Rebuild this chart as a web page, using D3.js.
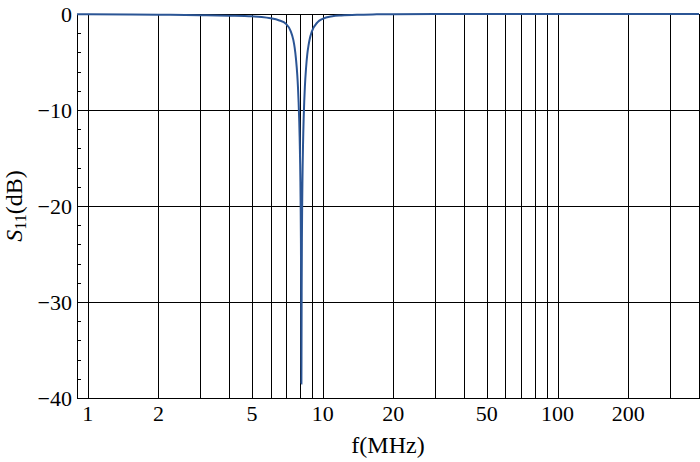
<!DOCTYPE html>
<html>
<head>
<meta charset="utf-8">
<script src="https://cdn.jsdelivr.net/npm/d3@7"></script>
<style>
  html, body { margin: 0; padding: 0; background: #fff; }
  svg { display: block; }
</style>
</head>
<body>
<svg id="chart" width="700" height="462"></svg>
<script>
// ---- data ----
const freqMHz = [0.9, 1, 1.5, 2, 3, 4, 5, 5.5, 6, 6.5, 7, 7.3, 7.5, 7.6, 7.7, 7.8, 7.85, 7.9, 7.95, 7.98,
                 8.0, 8.02, 8.04, 8.06, 8.08, 8.10, 8.11, 8.12, 8.13, 8.14, 8.16, 8.18, 8.2, 8.22, 8.25,
                 8.27, 8.3, 8.35, 8.4, 8.5, 8.6, 8.7, 8.8, 9.0, 9.5, 10, 11, 12, 14, 17, 20, 30, 50, 100, 200, 400];
const s11dB   = [-0.02, -0.03, -0.05, -0.07, -0.12, -0.17, -0.24, -0.32, -0.45, -0.65, -1.05, -1.75, -2.7, -3.5, -4.7, -6.4, -7.6, -9.2, -11.2, -12.8,
                 -14.1, -15.6, -17.5, -20.0, -23.4, -29.0, -33.8, -38.5, -33.8, -29.0, -23.4, -20.0, -17.6, -15.7, -13.6,
                 -12.4, -10.9, -9.05, -7.6, -5.6, -4.2, -3.33, -2.66, -1.81, -0.87, -0.5, -0.24, -0.15, -0.07, -0.036, -0.022, -0.008, -0.003, -0.001, 0, 0];
const xTickLabels = [1, 2, 5, 10, 20, 50, 100, 200];
const xGridValues = [1, 2, 3, 4, 5, 6, 7, 8, 9, 10, 20, 30, 40, 50, 60, 70, 80, 90, 100, 200, 300, 400];
const yTickValues = [0, -10, -20, -30, -40];
const yMinorTicks = [-2, -4, -6, -8, -12, -14, -16, -18, -22, -24, -26, -28, -32, -34, -36, -38];
const xDomain = [0.9, 400];
const yDomain = [-40, 0];

// ---- layout ----
const svg = d3.select("#chart");
const FONT = "Liberation Serif";
const FS = 22;
const mLeft = 77, mRight = 699, mTop = 14, mBottom = 398;
const x = d3.scaleLog().domain(xDomain).range([mLeft, mRight]);
const y = d3.scaleLinear().domain(yDomain).range([mBottom, mTop]);
const px = v => Math.round(v) + 0.5;

// vertical grid lines
svg.append("g").selectAll("line").data(xGridValues).join("line")
  .attr("x1", d => px(x(d))).attr("x2", d => px(x(d)))
  .attr("y1", mTop).attr("y2", mBottom)
  .attr("stroke", "#000").attr("stroke-width", 1);

// horizontal grid lines
svg.append("g").selectAll("line").data(yTickValues).join("line")
  .attr("x1", mLeft).attr("x2", mRight + 1)
  .attr("y1", d => px(y(d))).attr("y2", d => px(y(d)))
  .attr("stroke", "#000").attr("stroke-width", 1);

// left axis with minor ticks (inward)
svg.append("line").attr("x1", px(mLeft)).attr("x2", px(mLeft))
  .attr("y1", mTop).attr("y2", mBottom + 1).attr("stroke", "#000");
svg.append("g").selectAll("line").data(yMinorTicks).join("line")
  .attr("x1", mLeft).attr("x2", mLeft + 4)
  .attr("y1", d => px(y(d))).attr("y2", d => px(y(d)))
  .attr("stroke", "#000").attr("stroke-width", 1);

// y tick labels
svg.append("g").selectAll("text").data(yTickValues).join("text")
  .attr("font-family", FONT)
  .attr("x", 72).attr("y", d => y(d) + 7.5)
  .attr("text-anchor", "end").attr("font-size", FS)
  .text(d => d === 0 ? "0" : "\u2212" + Math.abs(d));

// x tick labels
svg.append("g").selectAll("text").data(xTickLabels).join("text")
  .attr("font-family", FONT)
  .attr("x", d => x(d)).attr("y", 421)
  .attr("text-anchor", "middle").attr("font-size", FS)
  .text(d => d);

// curve
const pts = freqMHz.map((f, i) => [f, s11dB[i]]);
const line = d3.line().x(d => x(d[0])).y(d => y(d[1])).curve(d3.curveMonotoneX);
svg.append("path").datum(pts)
  .attr("d", line).attr("fill", "none")
  .attr("stroke", "#2b5595").attr("stroke-width", 2);

// axis titles
svg.append("text").attr("font-family", FONT)
  .attr("x", (mLeft + mRight) / 2).attr("y", 453)
  .attr("text-anchor", "middle").attr("font-size", 24).text("f(MHz)");

const yt = svg.append("text").attr("font-family", FONT)
  .attr("transform", `translate(22,${(mTop + mBottom) / 2}) rotate(-90)`)
  .attr("text-anchor", "middle").attr("font-size", 24);
yt.append("tspan").attr("font-style", "italic").text("S");
yt.append("tspan").attr("font-size", 16).attr("dy", 4).text("11");
yt.append("tspan").attr("dy", -4).text("(dB)");
</script>
</body>
</html>
